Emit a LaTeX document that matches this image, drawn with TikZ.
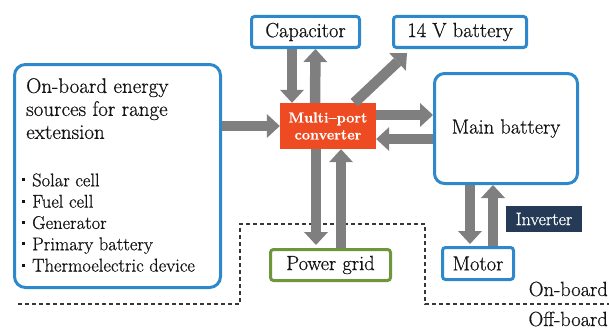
\documentclass[tikz,border=0pt]{standalone}
\usepackage{fontspec}
\setmainfont{Latin Modern Roman}[FakeBold=0.6]
\usetikzlibrary{arrows.meta}
\definecolor{boxblue}{HTML}{2E88CC}
\definecolor{gridgreen}{HTML}{6E963A}
\definecolor{convred}{HTML}{EE4B22}
\definecolor{invnavy}{HTML}{243A56}
\definecolor{arrgray}{HTML}{7F7F7F}
\definecolor{txt}{HTML}{141414}
\begin{document}
\begin{tikzpicture}[x=1pt,y=-1pt,
  lbl/.style={font=\fontsize{20.5}{23}\selectfont, text=txt},
  bluebox/.style={draw=boxblue, line width=3pt, rounded corners=3pt, fill=white, inner sep=0pt, lbl},
  bigbox/.style={draw=boxblue, line width=3pt, rounded corners=11pt, fill=white, inner sep=0pt},
  garrow/.style={draw=arrgray, line width=10.5pt, -{Triangle[width=24pt,length=13pt,line width=0pt]}},
  dashline/.style={draw=txt!85, line width=1.2pt, dash pattern=on 4pt off 3pt}]
\useasboundingbox (0,0) rectangle (609,329);

% boxes
\node[bigbox, minimum width=206pt, minimum height=223pt] (src) at (117.5,176) {};
\node[anchor=north west, align=left, inner sep=0pt, text=txt,
      font=\fontsize{21}{23}\selectfont] (srct) at (26,78)
  {On-board energy\\sources for range\\extension};
\node[anchor=north west, align=left, inner sep=0pt, text=txt,
      font=\fontsize{18.5}{21.3}\selectfont] (srcl) at (22,173.2)
  {\raisebox{5pt}{\rule{3pt}{3pt}}\hspace{7pt}Solar cell\\
   \raisebox{5pt}{\rule{3pt}{3pt}}\hspace{7pt}Fuel cell\\
   \raisebox{5pt}{\rule{3pt}{3pt}}\hspace{7pt}Generator\\
   \raisebox{5pt}{\rule{3pt}{3pt}}\hspace{7pt}Primary battery\\
   \raisebox{5pt}{\rule{3pt}{3pt}}\hspace{7pt}Thermoelectric device};

\node[bluebox, minimum width=108pt, minimum height=31pt] (cap) at (305.5,32) {Capacitor};
\node[bluebox, minimum width=133pt, minimum height=31pt] (bat14) at (460,32) {14 V battery};
\node[bigbox, lbl, rounded corners=10pt, minimum width=143pt, minimum height=110pt] (main) at (506,128.5) {Main battery};
\node[fill=convred, text=white, inner sep=0pt, align=center,
      font=\bfseries\fontsize{14.5}{17}\selectfont,
      minimum width=96pt, minimum height=46pt] (conv) at (328,126) {Multi--port\\converter};
\node[draw=gridgreen, line width=3pt, rounded corners=3pt, fill=white, inner sep=0pt, lbl,
      minimum width=120pt, minimum height=31pt] (grid) at (330.5,265) {Power grid};
\node[bluebox, minimum width=71pt, minimum height=32pt] (motor) at (478,263.5) {Motor};
\node[fill=invnavy, text=white, inner sep=0pt, font=\fontsize{18}{20}\selectfont,
      minimum width=76pt, minimum height=26pt] (inv) at (544,219) {Inverter};

% on/off-board labels
\node[anchor=base east, inner sep=0pt, lbl] (onb) at (608,296) {On-board};
\node[anchor=base east, inner sep=0pt, lbl] (offb) at (608,326) {Off-board};

% dashed boundary
\coordinate (d1) at (18,304);
\coordinate (d2) at (240,304);
\coordinate (d3) at (240,224);
\coordinate (d4) at (425,224);
\coordinate (d5) at (425,304);
\coordinate (d6) at (609,304);
\draw[dashline] (d1) -- (d2) -- (d3) -- (d4) -- (d5) -- (d6);

% arrows
\draw[garrow] (src.east |- conv.west) -- (conv.west);
\draw[garrow] ([xshift=-13.5pt]cap.south) -- ([xshift=-36pt]conv.north);
\draw[garrow] ([xshift=-13pt]conv.north) -- ([xshift=10pt]cap.south);
\draw[garrow] ([xshift=-22pt]conv.north east) -- ([xshift=15pt,yshift=-4pt]bat14.south west);
\coordinate (c1) at ([yshift=11pt]conv.east);
\coordinate (c2) at ([yshift=-13pt]conv.east);
\draw[garrow] (c1) -- (c1 -| main.west);
\draw[garrow] (c2 -| main.west) -- (c2);
\draw[garrow] ([xshift=-12pt]conv.south) -- ([xshift=-14.5pt,yshift=3pt]grid.north);
\draw[garrow] ([xshift=10.5pt]grid.north) -- ([xshift=13pt]conv.south);
\draw[garrow] ([xshift=-36pt]main.south) -- ([xshift=-8pt,yshift=2pt]motor.north);
\draw[garrow] ([xshift=15pt]motor.north) -- ([xshift=-13pt]main.south);
\end{tikzpicture}
\end{document}
